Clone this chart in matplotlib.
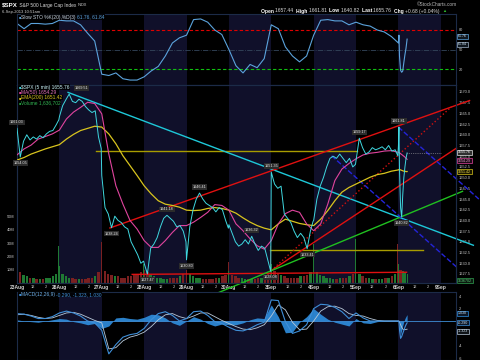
import numpy as np
import matplotlib
matplotlib.use('Agg')
import matplotlib.pyplot as plt
from matplotlib.transforms import blended_transform_factory

plt.rcParams['font.family'] = ['Liberation Sans', 'DejaVu Sans']

BARS_PER_DAY = 78
STEP = 13  # indicator values were read every 13 bars (65 min)

days = ['23Aug', '26Aug', '27Aug', '28Aug', '29Aug', '30Aug', '3Sep', '4Sep', '5Sep', '6Sep', '9Sep']
hour_bars = [30, 54]
hour_labels = ['12', '2']

# 5-min bar offsets inside a session where values were read (every 30 min + close)
session_bars = [0, 6, 12, 18, 24, 30, 36, 42, 48, 54, 60, 66, 72, 77]
sep6_bars = [0, 1, 2, 4, 6, 8, 10, 12, 14, 16]
sep6_vol_bars = [0, 4, 8, 12, 16]

# $SPX 5 min prices
aug23 = [1661.5, 1654.8, 1658.5, 1660.0, 1658.8, 1659.5, 1659.0, 1659.8, 1659.3, 1660.2, 1660.8, 1661.0, 1662.3, 1663.5]
aug26 = [1664.2, 1666.8, 1668.2, 1669.5, 1667.8, 1667.5, 1668.3, 1667.8, 1666.6, 1665.8, 1665.2, 1665.6, 1659.5, 1656.8]
aug27 = [1650.5, 1643.0, 1641.5, 1638.3, 1641.0, 1640.0, 1639.5, 1638.5, 1638.0, 1635.0, 1633.5, 1632.0, 1630.0, 1630.5]
aug28 = [1630.0, 1627.5, 1633.5, 1634.5, 1636.0, 1638.5, 1640.5, 1641.2, 1640.5, 1639.8, 1638.5, 1638.8, 1637.5, 1635.0]
aug29 = [1630.8, 1638.5, 1642.5, 1645.0, 1646.4, 1645.0, 1644.0, 1643.5, 1643.0, 1642.0, 1643.0, 1642.5, 1640.0, 1638.2]
aug30 = [1639.0, 1637.0, 1635.0, 1634.0, 1634.5, 1635.5, 1634.5, 1636.3, 1634.5, 1633.0, 1634.0, 1633.5, 1630.5, 1628.1]
sep3 = [1651.3, 1648.5, 1647.5, 1648.0, 1641.5, 1640.5, 1639.5, 1637.5, 1636.0, 1637.0, 1636.0, 1633.4, 1637.5, 1639.8]
sep4 = [1640.0, 1645.0, 1648.0, 1650.0, 1652.5, 1654.5, 1655.0, 1654.5, 1655.5, 1654.5, 1653.5, 1654.5, 1652.5, 1653.1]
sep5 = [1654.0, 1659.2, 1657.0, 1655.5, 1656.0, 1657.0, 1656.5, 1656.8, 1657.2, 1656.5, 1657.5, 1656.2, 1656.5, 1655.1]
sep6 = [1657.4, 1661.8, 1652.0, 1643.0, 1640.8, 1646.0, 1650.0, 1652.5, 1654.5, 1655.76]

# volume, millions per 5-min bar
aug23_vol = [23, 8, 6, 5, 4, 4, 3, 3, 3, 4, 4, 5, 7, 28]
aug26_vol = [13, 7, 5, 4, 4, 3, 3, 3, 3, 4, 4, 5, 8, 31]
aug27_vol = [12, 9, 7, 6, 5, 5, 4, 4, 5, 5, 6, 6, 8, 14]
aug28_vol = [10, 8, 6, 5, 4, 4, 3, 3, 4, 4, 4, 5, 7, 25]
aug29_vol = [10, 7, 5, 4, 4, 3, 3, 3, 3, 4, 4, 5, 6, 16]
aug30_vol = [9, 6, 5, 4, 4, 3, 3, 3, 3, 4, 4, 5, 7, 28]
sep3_vol = [14, 9, 7, 6, 5, 4, 4, 4, 4, 5, 5, 6, 8, 29]
sep4_vol = [10, 8, 6, 5, 4, 4, 3, 3, 4, 4, 4, 5, 7, 33]
sep5_vol = [10, 7, 5, 4, 4, 3, 3, 3, 3, 4, 4, 5, 7, 29]
sep6_vol = [14, 10, 9, 8, 7]

# MA(50) and EMA(200), every 13 bars up to 5Sep, then 6Sep bars
ma50 = [1655.3, 1656.7, 1657.6, 1659.0, 1659.6, 1660.2, 1661.1, 1663.7, 1665.3, 1666.4, 1667.6, 1667.3,
        1664.9, 1655.5, 1648.1, 1643.8, 1640.0, 1638.0, 1635.3, 1633.7, 1633.7, 1635.3, 1637.2, 1638.8,
        1638.8, 1639.6, 1640.7, 1641.9, 1643.7, 1643.5, 1642.4, 1639.2, 1637.6, 1635.7, 1634.1, 1633.3,
        1635.3, 1639.2, 1641.6, 1642.4, 1641.9, 1639.2, 1637.6, 1639.2, 1643.8, 1649.3, 1652.0, 1653.3,
        1654.4, 1655.3, 1655.7, 1655.9, 1656.2, 1656.3]
ma50_sep6 = [1655.9, 1655.9, 1655.8, 1655.6, 1655.4, 1655.2, 1655.0, 1654.8, 1654.5, 1654.29]
ema200 = [1654.1, 1654.7, 1655.5, 1656.1, 1656.7, 1657.2, 1657.7, 1659.0, 1660.1, 1661.0, 1661.5, 1662.0,
          1661.8, 1660.2, 1657.9, 1655.1, 1652.8, 1650.5, 1648.1, 1646.2, 1644.6, 1643.8, 1643.5, 1643.1,
          1642.4, 1642.3, 1642.4, 1642.8, 1643.0, 1642.8, 1642.4, 1641.7, 1640.6, 1639.6, 1638.8, 1638.2,
          1637.8, 1639.2, 1640.3, 1639.8, 1639.3, 1639.0, 1638.8, 1640.3, 1642.3, 1644.6, 1646.6, 1647.7,
          1648.5, 1649.3, 1650.1, 1650.7, 1651.0, 1651.5]
ema200_sep6 = [1651.8, 1651.9, 1651.9, 1651.8, 1651.7, 1651.6, 1651.5, 1651.5, 1651.4, 1651.42]

# Slow STO %K(20) %D(3)
sto = [90, 82, 90, 90, 89, 90, 95, 94, 94, 88, 75, 63, 12, 10, 14, 5, 3, 3, 8, 17, 24, 40, 60, 68,
       72, 96, 97, 92, 80, 73, 50, 25, 14, 27, 22, 36, 88, 82, 54, 40, 31, 40, 72, 95, 96, 94, 94, 88,
       92, 88, 86, 80, 77, 70]
sto_sep6 = [60, 72, 40, 18, 15, 17, 30, 42, 52, 66]

# MACD(12,26,9)
macd = [1.2, 1.1, 0.8, 0.4, 0.4, 0.7, 1.3, 1.6, 1.3, 0.8, 0.0, -0.3, -1.5, -5.3, -3.8, -2.6, -2.2, -2.0,
        -1.2, 0.2, 1.2, 1.5, 0.9, 0.0, 0.4, 1.5, 1.6, 0.9, -0.1, -0.4, -1.0, -1.5, -1.6, -1.2, -0.6, -0.2,
        3.4, 3.3, -0.1, -2.0, -1.6, -0.6, 2.0, 2.7, 2.6, 2.2, 1.5, 0.4, 1.3, 0.5, 0.0, 0.0, 0.0, 0.0]
macd_sep6 = [0.0, -0.1, -1.4, -2.8, -2.5, -2.0, -1.5, -1.0, -0.6, -0.29]
signal = [1.0, 1.1, 0.9, 0.6, 0.4, 0.5, 0.9, 1.3, 1.4, 1.1, 0.6, 0.1, -0.3, -4.5, -4.3, -3.2, -2.6, -2.3,
          -1.8, -0.9, 0.2, 1.0, 1.2, 0.7, 0.4, 0.8, 1.3, 1.3, 0.7, 0.1, -0.4, -0.9, -1.3, -1.4, -1.1, -0.6,
          0.8, 2.6, 1.8, -0.2, -1.4, -1.3, 0.0, 1.6, 2.3, 2.4, 2.0, 1.2, 0.9, 0.8, 0.4, 0.1, 0.0, 0.0]
signal_sep6 = [0.0, 0.0, -0.2, -0.6, -1.0, -1.3, -1.4, -1.4, -1.35, -1.323]

# price labels: (day, bar in day, text, above=+1 / below=-1)
price_labels = [(0, 0, '1661.03', 1), (0, 6, '1654.05', -1), (1, 18, '1669.51', 1),
                (2, 18, '1638.24', -1), (3, 6, '1627.47', -1), (3, 42, '1641.18', 1),
                (4, 0, '1630.80', -1), (4, 24, '1646.41', 1), (5, 42, '1636.32', 1),
                (5, 77, '1628.08', -1), (6, 0, '1651.35', 1), (6, 66, '1633.41', -1),
                (8, 6, '1659.17', 1), (9, 1, '1661.81', 1), (9, 6, '1640.82', -1)]
label_nudge = {'1669.51': 9}  # points to the right, clear of the legend

# drawn trend lines: (bars, prices)
cyan_line = ([94, 840], [1669.9, 1634.2])
red_upper = ([171, 833], [1638.24, 1668.0])
red_lower = ([468, 809], [1628.3, 1656.9])
red_dotted = ([468, 800], [1628.3, 1666.6])
red_flat = ([212, 717], [1627.4, 1627.9])
green_line = ([370, 820], [1623.1, 1646.8])
yellow_hi = ([145, 625], [1656.1, 1656.1])
yellow_lo = ([465, 747], [1633.2, 1633.2])
blue_1 = ([702, 850], [1661.8, 1645.0])
blue_2 = ([579, 811], [1655.1, 1628.9])


def session_series(day_lists, last_vals, last_bars):
    xs, ys = [], []
    for d, vals in enumerate(day_lists):
        xs += [d * BARS_PER_DAY + b for b in session_bars]
        ys += vals
    xs += [len(day_lists) * BARS_PER_DAY + b for b in last_bars]
    ys += last_vals
    return np.array(xs), np.array(ys, dtype=float)


def grid_series(vals, last_vals):
    xs = list(np.arange(len(vals)) * STEP) + [9 * BARS_PER_DAY + b for b in sep6_bars]
    return np.array(xs), np.array(vals + last_vals, dtype=float)


px, py = session_series([aug23, aug26, aug27, aug28, aug29, aug30, sep3, sep4, sep5], sep6, sep6_bars)
vx, vv = session_series([aug23_vol, aug26_vol, aug27_vol, aug28_vol, aug29_vol, aug30_vol,
                         sep3_vol, sep4_vol, sep5_vol], sep6_vol, sep6_vol_bars)
mx, my = grid_series(ma50, ma50_sep6)
ex, ey = grid_series(ema200, ema200_sep6)
sx, sy = grid_series(sto, sto_sep6)
cx, cy = grid_series(macd, macd_sep6)
gx, gy = grid_series(signal, signal_sep6)
hist = cy - gy
last_bar = px[-1]

fig = plt.figure(figsize=(4.8, 3.6), dpi=100, facecolor='black')
XMAX = 808


def panel(top, bottom):
    a = fig.add_axes([17 / 480, 1 - bottom / 360, 439 / 480, (bottom - top) / 360])
    a.set_facecolor('black')
    for s in a.spines.values():
        s.set_color('#1c2b48')
        s.set_linewidth(0.8)
    a.set_xlim(0, XMAX)
    a.set_xticks([])
    return a


def shade(a):
    for d in range(1, len(days), 2):
        a.axvspan(d * BARS_PER_DAY, (d + 1) * BARS_PER_DAY, color='#10102a', lw=0, zorder=0)


def right_ticks(a, ticks, fmt):
    a.yaxis.tick_right()
    a.set_yticks(ticks)
    a.set_yticklabels([fmt.format(t) for t in ticks])
    a.tick_params(axis='y', length=0, pad=2, labelsize=2.8, colors='#c8c8c8')


def tag(a, value, text, edge, face, color):
    a.text(1 + 2 / 439, value, text, transform=blended_transform_factory(a.transAxes, a.transData),
           ha='left', va='center', fontsize=2.6, color=color, clip_on=False, zorder=20,
           bbox=dict(boxstyle='square,pad=0.15', fc=face, ec=edge, lw=0.5))


ax_sto = panel(14, 85)
ax_vol = panel(85, 283)
ax = panel(85, 283)
ax.patch.set_visible(False)
ax_macd = panel(292, 360)
for a in (ax_sto, ax_vol, ax_macd):
    shade(a)

# --- Slow STO ---
ax_sto.set_ylim(-4.6, 104.6)
ax_sto.axhline(80, color='#e00000', lw=0.8, ls=(0, (3, 2)))
ax_sto.axhline(20, color='#10c010', lw=0.8, ls=(0, (3, 2)))
ax_sto.axhline(50, color='#34465c', lw=0.6, ls='-.')
ax_sto.plot(sx, sy, color='#5ba3dc', lw=0.8)
right_ticks(ax_sto, [20, 50, 80], '{:d}')
tag(ax_sto, 70, '61.76', '#5ba3dc', '#101820', '#d0e4f4')
tag(ax_sto, 58, '61.84', '#a0b4c8', '#101820', '#d0e4f4')

# --- volume ---
ax_vol.set_ylim(0, 149)
price_at_vol = np.interp(vx, px, py)
up = price_at_vol >= np.concatenate([[price_at_vol[0]], price_at_vol[:-1]])
is_edge = np.isin(vx % BARS_PER_DAY, [0, 77]) | (vx == vx[-1])
widths = np.where(is_edge, 1.6, 4.5)
ax_vol.bar(vx, vv, width=widths, color=np.where(up, '#1f7a33', '#7a2020'), lw=0, zorder=1)
ax_vol.yaxis.tick_left()
ax_vol.set_yticks([10, 20, 30, 40, 50])
ax_vol.set_yticklabels(['10M', '20M', '30M', '40M', '50M'])
ax_vol.tick_params(axis='y', length=0, pad=2, labelsize=2.8, colors='#c8c8c8')
tag(ax_vol, 1.64, '1636702', '#30a050', '#0c1a10', '#60d080')

# --- price ---
ax.set_ylim(1625.39, 1671.63)
for (bx, by), col in [(yellow_hi, '#a89c00'), (yellow_lo, '#a89c00'), (red_flat, '#e01010')]:
    ax.plot(bx, by, color=col, lw=1.0, zorder=2)
for (bx, by), col, ls in [(cyan_line, '#1ec8d8', '-'), (red_upper, '#e01010', '-'),
                          (red_lower, '#e01010', '-'), (red_dotted, '#d01010', ':'),
                          (green_line, '#20c020', '-'), (blue_1, '#2424d8', '--'),
                          (blue_2, '#2424d8', '--')]:
    ax.plot(bx, by, color=col, lw=1.0, ls=ls, zorder=2, clip_on=False)
ax.plot(ex, ey, color='#d8c41e', lw=0.9, zorder=3)
ax.plot(mx, my, color='#e0449e', lw=0.8, zorder=3)
ax.plot(px, py, color='#3fd8e0', lw=0.7, zorder=4)
ax.plot([last_bar, 10 * BARS_PER_DAY], [py[-1], py[-1]], color='#b0b0b0', lw=0.5, ls=':', zorder=4)

for d, b, text, side in price_labels:
    bar = d * BARS_PER_DAY + b
    ax.annotate(text, (bar, np.interp(bar, px, py)), xytext=(label_nudge.get(text, 0), 4.3 * side),
                textcoords='offset points', ha='center', va='center', fontsize=2.7,
                color='#e8e8e8', zorder=6,
                bbox=dict(boxstyle='square,pad=0.2', fc='#2b2b2b', ec='none'))

right_ticks(ax, np.arange(1627.5, 1670.01, 2.5), '{:.1f}')
tag(ax, py[-1] + 0.2, '1655.76', '#e0e0e0', '#303030', '#ffffff')
tag(ax, my[-1] - 0.3, '1654.29', '#e0449e', '#1c0a16', '#f0a0d0')
tag(ax, ey[-1], '1651.42', '#d8c41e', '#1a1800', '#eedc50')

ticks, labels, bold = [], [], []
for d, name in enumerate(days):
    ticks.append(d * BARS_PER_DAY)
    labels.append(name)
    bold.append(True)
    for hb, hl in zip(hour_bars, hour_labels):
        if d * BARS_PER_DAY + hb < XMAX:
            ticks.append(d * BARS_PER_DAY + hb)
            labels.append(hl)
            bold.append(False)
ax.set_xticks(ticks)
ax.set_xticklabels(labels)
ax.tick_params(axis='x', length=0, pad=1.2, colors='#d0d0d0')
for lab, b in zip(ax.get_xticklabels(), bold):
    lab.set_fontsize(3.6 if b else 2.8)
    lab.set_fontweight('bold' if b else 'normal')

# --- MACD ---
ax_macd.set_ylim(-6.29, 4.68)
ax_macd.fill_between(cx, 0, hist, color='#2f8fe0', lw=0, alpha=0.9)
ax_macd.axhline(0, color='#3f8fd8', lw=0.6)
ax_macd.plot(gx, gy, color='#b8c8d8', lw=0.6)
ax_macd.plot(cx, cy, color='#3f8fd8', lw=0.8)
right_ticks(ax_macd, [-6, -4, 2, 4], '{:d}')
tag(ax_macd, hist[-1] + 0.25, '1.030', '#2f8fe0', '#0c1828', '#d0e4f4')
tag(ax_macd, cy[-1], '-0.290', '#3f8fd8', '#0c1828', '#d0e4f4')
tag(ax_macd, gy[-1] - 0.35, '-1.323', '#b8c8d8', '#101418', '#d0e4f4')

# --- text overlay ---
ov = fig.add_axes([0, 0, 1, 1])
ov.axis('off')
ov.set_xlim(0, 480)
ov.set_ylim(360, 0)


def chain(x, y, parts, box=False):
    prev_t = None
    for s, col, weight, size in parts:
        kw = dict(color=col, fontweight=weight, fontsize=size, va='center', ha='left', zorder=30)
        if box:
            kw['bbox'] = dict(boxstyle='square,pad=0.05', fc='black', ec='none', alpha=0.85)
        if prev_t is None:
            prev_t = ov.text(x, y, s, **kw)
        else:
            prev_t = ov.annotate(s, xy=(1, 0.5), xycoords=prev_t, **kw)
    return prev_t


chain(2, 5, [('$SPX', 'white', 'bold', 4.4), (' S&P 500 Large Cap Index ', '#d8d8d8', 'normal', 3.5),
             ('INDX', '#d8d8d8', 'normal', 2.8)])
ov.text(2, 11.5, '6-Sep-2013 10:51am', color='#d0d0d0', fontsize=3.0, va='center')
ov.text(457, 5, '\u00a9StockCharts.com', color='#b8b8b8', fontsize=3.4, va='center', ha='right')
hdr = []
for k, v in [('Open', '1657.44'), ('High', '1661.81'), ('Low', '1640.82'), ('Last', '1655.76'),
             ('Chg', '+0.68 (+0.04%)')]:
    hdr += [(k + ' ', 'white', 'bold', 3.6), (v + '  ', '#d8d8d8', 'normal', 3.6)]
hdr += [('\u25b2', '#30c030', 'normal', 3.0)]
chain(261, 11, hdr)

chain(18.5, 17, [('\u25a0', '#5ba3dc', 'normal', 3.2), ('Slow STO %K(20),%D(3) ', '#c8d4e0', 'normal', 3.5),
                 ('61.76, 61.84', '#5ba3dc', 'normal', 3.5)], box=True)
legend_rows = [('$SPX (5 min) 1655.76', '#3fd8e0', '#c8f0f4'), ('MA(50) 1654.29', '#e0449e', '#e070b8'),
               ('EMA(200) 1651.42', '#d8c41e', '#d8c41e'), ('Volume 1,636,702', '#1f9a3a', '#30b050')]
for i, (s, sq, col) in enumerate(legend_rows):
    chain(18.5, 87 + 5.3 * i, [('\u25a0', sq, 'normal', 3.2), (s, col, 'normal', 3.5)], box=True)
chain(18.5, 294.5, [('\u25a0', '#3f8fd8', 'normal', 3.2), ('MACD(12,26,9) ', '#6fb0e8', 'normal', 3.5),
                    ('-0.290, -1.323, 1.030', '#3f8fd8', 'normal', 3.5)], box=True)

fig.savefig('out.png', dpi=100, facecolor='black')
